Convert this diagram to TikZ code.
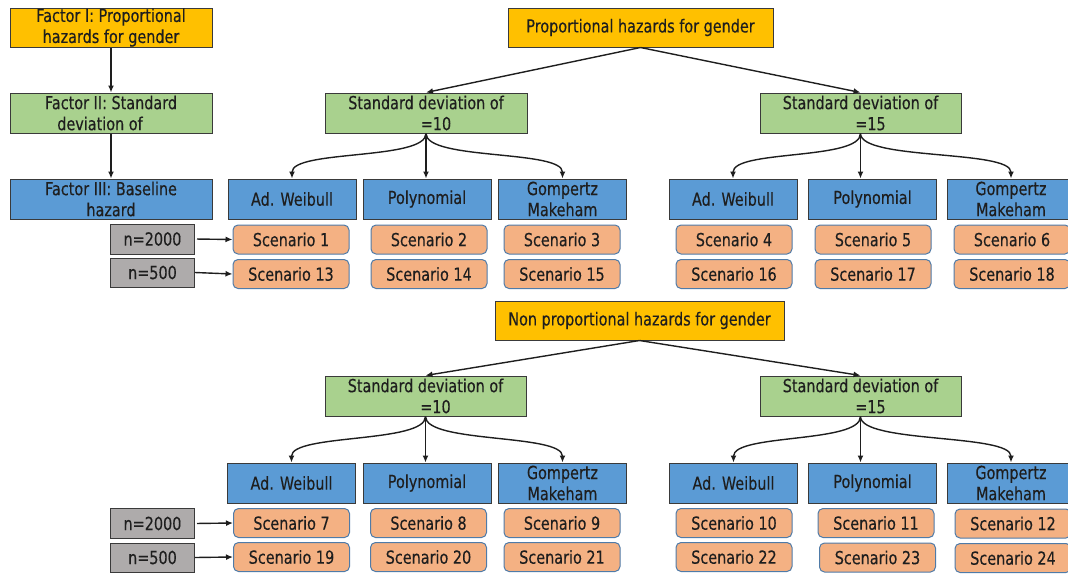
\documentclass[tikz,border=0pt]{standalone}
\usepackage{fontspec}
\setmainfont{DejaVu Sans}[FakeStretch=0.8,FakeBold=0.3]
\usetikzlibrary{arrows.meta}
\definecolor{txt}{HTML}{1E1E1E}
\definecolor{yel}{HTML}{FFC000}
\definecolor{grn}{HTML}{A9D18E}
\definecolor{blu}{HTML}{5B9BD5}
\definecolor{gry}{HTML}{AEABAB}
\definecolor{org}{HTML}{F4B183}
\definecolor{edge}{HTML}{3A3A3A}
\definecolor{oedge}{HTML}{4F7BA8}
\definecolor{arr}{HTML}{1E1E1E}
\tikzset{
  base/.style={draw=edge, line width=1pt, inner sep=0pt, align=center, text=txt,
    font=\fontsize{18}{21}\selectfont},
  ybox/.style={base, fill=yel, minimum height=39pt},
  gbox/.style={base, fill=grn, minimum height=40pt},
  bbox/.style={base, fill=blu, minimum height=40pt, minimum width=128pt},
  nbox/.style={base, fill=gry, minimum width=84pt},
  sbox/.style={base, draw=oedge, fill=org, rounded corners=5pt, minimum width=116pt, minimum height=29pt},
  conn/.style={draw=arr, line width=1.4pt, -{Latex[length=7pt,width=6pt]}},
}
\begin{document}
\begin{tikzpicture}[x=1pt,y=-1pt]
\useasboundingbox (0,0) rectangle (1068,573);
% left legend column
\node[ybox, minimum width=202pt] (f1) at (111,27.5) {Factor I: Proportional\\hazards for gender};
\node[gbox, minimum width=202pt] (f2) at (111,113) {Factor II: Standard\\deviation of\hspace*{22pt}};
\node[bbox, minimum width=202pt] (f3) at (111,199) {Factor III: Baseline\\hazard};
\draw[conn] (f1.south) -- (f2.north);
\draw[conn] (f2.south) -- (f3.north);
\node[nbox, minimum height=30pt] (na1) at (152.5,239) {n=2000};
\node[nbox, minimum height=29pt] (na2) at (152.5,272.5) {n=500};
\node[nbox, minimum height=30pt] (nb1) at (152.5,523.5) {n=2000};
\node[nbox, minimum height=29pt] (nb2) at (152.5,557.5) {n=500};

% top tree
\node[ybox, minimum width=265pt] (pa) at (640.5,27.5) {Proportional hazards for gender};
\node[gbox, minimum width=202pt] (sa1) at (426,113) {Standard deviation of\\\hspace*{20pt}=10};
\node[gbox, minimum width=201pt] (sa2) at (860.5,113) {Standard deviation of\\\hspace*{20pt}=15};
\draw[conn] (pa.south) -- (sa1.north);
\draw[conn] (pa.south) -- (sa2.north);
\node[bbox] (aw1) at (292,199) {Ad. Weibull};
\node[bbox] (po1) at (427,199) {Polynomial};
\node[bbox] (gm1) at (562.5,199) {Gompertz\\Makeham};
\node[bbox] (aw2) at (733,199) {Ad. Weibull};
\node[bbox] (po2) at (872.5,199) {Polynomial};
\node[bbox] (gm2) at (1011,199) {Gompertz\\Makeham};
\draw[conn] (sa1.south) .. controls ([yshift=-27pt]sa1.south) and ([yshift=29pt]aw1.north) .. (aw1.north);
\draw[conn] (sa1.south) -- (sa1.south |- po1.north);
\draw[conn] (sa1.south) .. controls ([yshift=-27pt]sa1.south) and ([yshift=29pt]gm1.north) .. (gm1.north);
\draw[conn] (sa2.south) .. controls ([yshift=-27pt]sa2.south) and ([yshift=29pt]aw2.north) .. (aw2.north);
\draw[conn] (sa2.south) -- (sa2.south |- po2.north);
\draw[conn] (sa2.south) .. controls ([yshift=-27pt]sa2.south) and ([yshift=29pt]gm2.north) .. (gm2.north);
\node[sbox] (s1) at (291,239.5) {Scenario 1};
\node[sbox] (s2) at (429,239.5) {Scenario 2};
\node[sbox] (s3) at (562,239.5) {Scenario 3};
\node[sbox] (s4) at (734,239.5) {Scenario 4};
\node[sbox] (s5) at (873,239.5) {Scenario 5};
\node[sbox] (s6) at (1012,239.5) {Scenario 6};
\node[sbox] (s13) at (291,274) {Scenario 13};
\node[sbox] (s14) at (429,274) {Scenario 14};
\node[sbox] (s15) at (562,274) {Scenario 15};
\node[sbox] (s16) at (734,274) {Scenario 16};
\node[sbox] (s17) at (873,274) {Scenario 17};
\node[sbox] (s18) at (1012,274) {Scenario 18};
\draw[conn, shorten <=2pt] (na1.east) -- (s1.west);
\draw[conn] (na2.east) -- (s13.west);

% bottom tree
\node[ybox, minimum width=289pt] (pb) at (639.5,320.5) {Non proportional hazards for gender};
\node[gbox, minimum width=201pt] (sb1) at (425.5,396) {Standard deviation of\\\hspace*{20pt}=10};
\node[gbox, minimum width=201pt] (sb2) at (860.5,396) {Standard deviation of\\\hspace*{20pt}=15};
\draw[conn] (pb.south) -- (sb1.north);
\draw[conn] (pb.south) -- (sb2.north);
\node[bbox] (aw3) at (291.5,483) {Ad. Weibull};
\node[bbox] (po3) at (427,483) {Polynomial};
\node[bbox] (gm3) at (562.5,483) {Gompertz\\Makeham};
\node[bbox] (aw4) at (733.5,483) {Ad. Weibull};
\node[bbox] (po4) at (872.5,483) {Polynomial};
\node[bbox] (gm4) at (1011,483) {Gompertz\\Makeham};
\draw[conn] (sb1.south) .. controls ([yshift=-27pt]sb1.south) and ([yshift=29pt]aw3.north) .. (aw3.north);
\draw[conn] (sb1.south) -- (sb1.south |- po3.north);
\draw[conn] (sb1.south) .. controls ([yshift=-27pt]sb1.south) and ([yshift=29pt]gm3.north) .. (gm3.north);
\draw[conn] (sb2.south) .. controls ([yshift=-27pt]sb2.south) and ([yshift=29pt]aw4.north) .. (aw4.north);
\draw[conn] (sb2.south) -- (sb2.south |- po4.north);
\draw[conn] (sb2.south) .. controls ([yshift=-27pt]sb2.south) and ([yshift=29pt]gm4.north) .. (gm4.north);
\node[sbox] (s7) at (291.5,523) {Scenario 7};
\node[sbox] (s8) at (428.5,523) {Scenario 8};
\node[sbox] (s9) at (562,523) {Scenario 9};
\node[sbox] (s10) at (734,523) {Scenario 10};
\node[sbox] (s11) at (876,523) {Scenario 11};
\node[sbox] (s12) at (1013,523.5) {Scenario 12};
\node[sbox] (s19) at (291.5,557) {Scenario 19};
\node[sbox] (s20) at (428.5,557) {Scenario 20};
\node[sbox] (s21) at (562,557) {Scenario 21};
\node[sbox] (s22) at (734,557) {Scenario 22};
\node[sbox] (s23) at (877.5,557.5) {Scenario 23};
\node[sbox] (s24) at (1013,558) {Scenario 24};
\draw[conn, shorten <=2pt] (nb1.east) -- (s7.west);
\draw[conn] (nb2.east) -- (s19.west);
\end{tikzpicture}
\end{document}
